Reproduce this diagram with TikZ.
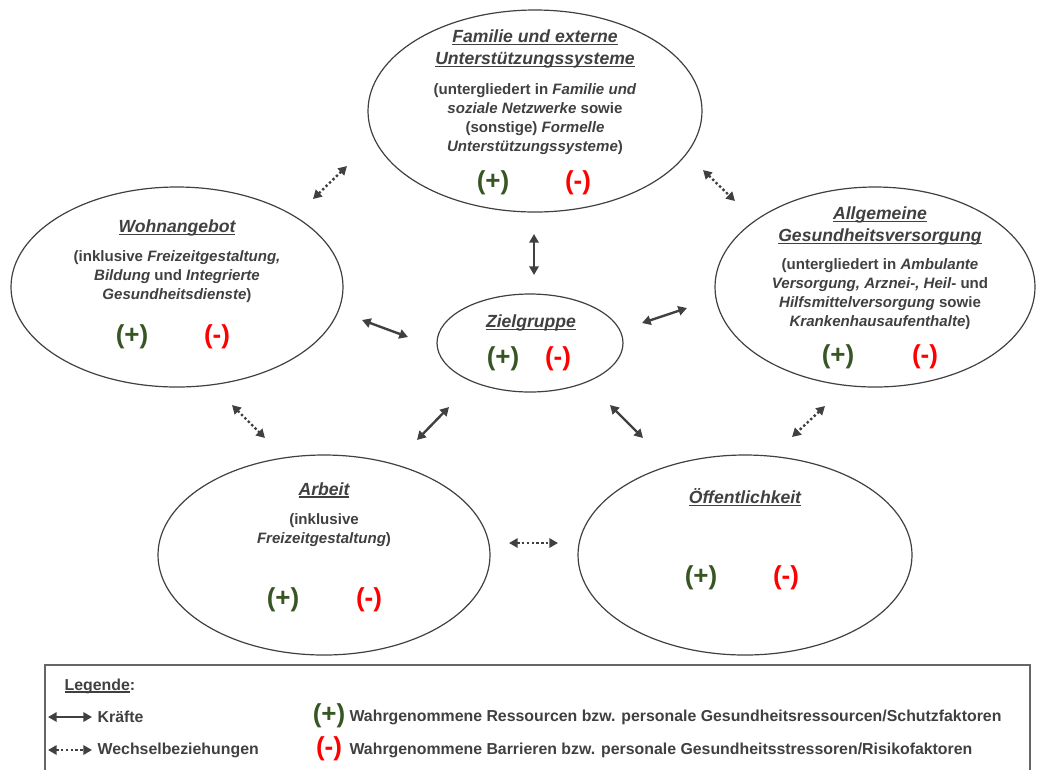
\documentclass[tikz,border=0pt]{standalone}
\usepackage{fontspec}
\setmainfont{Liberation Sans}
\usetikzlibrary{arrows.meta,shapes.geometric}
\definecolor{schrift}{RGB}{64,64,64}
\definecolor{ressgruen}{RGB}{55,86,35}
\definecolor{barrrot}{RGB}{255,0,0}
\newcommand{\unterstr}[1]{\setbox0\hbox{#1}\rlap{\rule[-1.9pt]{\wd0}{0.9pt}}\box0}

\begin{document}
\begin{tikzpicture}[x=0.75pt,y=-0.75pt,
  bereich/.style={ellipse,draw=schrift,line width=0.9pt,inner sep=0pt},
  titel/.style={text=schrift,align=center,font=\fontsize{13.2}{16.5}\selectfont\bfseries\itshape},
  inhalt/.style={text=schrift,align=center,font=\fontsize{11.3}{14.3}\selectfont\bfseries},
  plus/.style={text=ressgruen,font=\fontsize{19.5}{22}\selectfont\bfseries},
  minus/.style={text=barrrot,font=\fontsize{19.5}{22}\selectfont\bfseries},
  legtext/.style={text=schrift,anchor=west,font=\fontsize{11.9}{14}\selectfont\bfseries},
  kraft/.style={schrift,line width=1.8pt,{Triangle[length=6.5pt,width=7pt]}-{Triangle[length=6.5pt,width=7pt]}},
  wechsel/.style={kraft,dash pattern=on 1.8pt off 1.8pt}]
  \useasboundingbox (0,0) rectangle (1037,769);

  % Bereiche
  \node[bereich,minimum width=250.5pt,minimum height=151.5pt] (familie) at (535,111) {};
  \node[bereich,minimum width=249pt,minimum height=150pt] (wohnen) at (177,287) {};
  \node[bereich,minimum width=240pt,minimum height=150pt] (versorgung) at (875,287) {};
  \node[bereich,minimum width=139.5pt,minimum height=73.5pt] (ziel) at (530,343) {};
  \node[bereich,minimum width=249pt,minimum height=150pt] (arbeit) at (324,555) {};
  \node[bereich,minimum width=250.5pt,minimum height=150pt] (oeffentl) at (745,555) {};

  % Familie
  \node[titel] (familieT) at (535,49) {\unterstr{Familie und externe}\\\unterstr{Unterstützungssysteme}};
  \node[inhalt] (familieI) at (535,119) {(untergliedert in \textit{Familie und}\\\textit{soziale Netzwerke} sowie\\(sonstige) \textit{Formelle}\\\textit{Unterstützungssysteme})};
  \node[plus] (familieP) at (493,183) {(+)};
  \node[minus] (familieM) at (578,183) {(-)};

  % Wohnangebot
  \node[titel] (wohnenT) at (177,228) {\unterstr{Wohnangebot}};
  \node[inhalt] (wohnenI) at (177,277) {(inklusive \textit{Freizeitgestaltung,}\\\textit{Bildung} und \textit{Integrierte}\\\textit{Gesundheitsdienste})};
  \node[plus] (wohnenP) at (132,337) {(+)};
  \node[minus] (wohnenM) at (217,337) {(-)};

  % Gesundheitsversorgung
  \node[titel] (versorgungT) at (880,226) {\unterstr{Allgemeine}\\\unterstr{Gesundheitsversorgung}};
  \node[inhalt] (versorgungI) at (880,294) {(untergliedert in \textit{Ambulante}\\\textit{Versorgung, Arznei-, Heil-} und\\\textit{Hilfsmittelversorgung} sowie\\\textit{Krankenhausaufenthalte})};
  \node[plus] (versorgungP) at (838,357) {(+)};
  \node[minus] (versorgungM) at (925,357) {(-)};

  % Zielgruppe
  \node[titel] (zielT) at (531,323) {\unterstr{Zielgruppe}};
  \node[plus] (zielP) at (503,359) {(+)};
  \node[minus] (zielM) at (558,359) {(-)};

  % Arbeit
  \node[titel] (arbeitT) at (324,490) {\unterstr{Arbeit}};
  \node[inhalt] (arbeitI) at (324,530) {(inklusive\\\textit{Freizeitgestaltung})};
  \node[plus] (arbeitP) at (283,600) {(+)};
  \node[minus] (arbeitM) at (369,600) {(-)};

  % Oeffentlichkeit
  \node[titel] (oeffentlT) at (745,497) {\unterstr{Öffentlichkeit}};
  \node[plus] (oeffentlP) at (701,578) {(+)};
  \node[minus] (oeffentlM) at (786,578) {(-)};

  % Kraefte
  \coordinate (kO1) at (534,234); \coordinate (kO2) at (534,275);
  \coordinate (kL1) at (362,320); \coordinate (kL2) at (408,337);
  \coordinate (kR1) at (642,323); \coordinate (kR2) at (687,308);
  \coordinate (kUL1) at (449,407); \coordinate (kUL2) at (417,440);
  \coordinate (kUR1) at (610,405); \coordinate (kUR2) at (643,438);
  \draw[kraft] (kO1) -- (kO2);
  \draw[kraft] (kL1) -- (kL2);
  \draw[kraft] (kR1) -- (kR2);
  \draw[kraft] (kUL1) -- (kUL2);
  \draw[kraft] (kUR1) -- (kUR2);

  % Wechselbeziehungen
  \coordinate (wOL1) at (313,199); \coordinate (wOL2) at (347,166);
  \coordinate (wOR1) at (703,170); \coordinate (wOR2) at (735,201);
  \coordinate (wUL1) at (232,405); \coordinate (wUL2) at (265,438);
  \coordinate (wUR1) at (825,406); \coordinate (wUR2) at (792,437);
  \coordinate (wM1) at (509,543); \coordinate (wM2) at (558,543);
  \draw[wechsel] (wOL1) -- (wOL2);
  \draw[wechsel] (wOR1) -- (wOR2);
  \draw[wechsel] (wUL1) -- (wUL2);
  \draw[wechsel] (wUR1) -- (wUR2);
  \draw[wechsel] (wM1) -- (wM2);

  % Legende
  \draw[schrift!80,line width=0.8pt] (45,665) rectangle (1030,775);
  \node[legtext] (legT) at (60,686) {\unterstr{Legende}:};
  \coordinate (lK1) at (48,717); \coordinate (lK2) at (92,717);
  \coordinate (lW1) at (48,750); \coordinate (lW2) at (92,750);
  \draw[kraft] (lK1) -- (lK2);
  \draw[wechsel] (lW1) -- (lW2);
  \node[legtext] (legK) at (93,717) {Kräfte};
  \node[legtext] (legW) at (93,750) {Wechselbeziehungen};
  \node[plus] (legP) at (329,716) {(+)};
  \node[minus] (legM) at (329,749) {(-)};
  \node[legtext,inner sep=1pt] (legPT) at (348,717) {Wahrgenommene Ressourcen bzw. personale Gesundheitsressourcen/Schutzfaktoren};
  \node[legtext,inner sep=1pt] (legMT) at (348,750) {Wahrgenommene Barrieren bzw. personale Gesundheitsstressoren/Risikofaktoren};
\end{tikzpicture}
\end{document}
